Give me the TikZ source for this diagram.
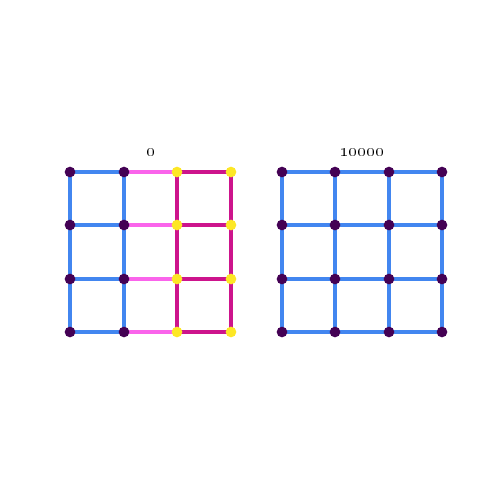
\documentclass[tikz,border=0pt]{standalone}
\definecolor{gblue}{RGB}{66,134,240}
\definecolor{gpink}{RGB}{250,100,235}
\definecolor{gmagenta}{RGB}{205,20,140}
\definecolor{gpurple}{RGB}{68,1,84}
\definecolor{gyellow}{RGB}{253,231,37}
\tikzset{every picture/.style={line width=0.75pt},
	vtx/.style={circle,inner sep=0pt,minimum size=8pt},
	vpurple/.style={vtx,fill=gpurple},
	vyellow/.style={vtx,fill=gyellow},
	gridline/.style={line width=2.4pt}}

\begin{document}
\begin{tikzpicture}[x=0.75pt,y=0.75pt,yscale=-1,xscale=1]
		\useasboundingbox (0,0) rectangle (500,500);
		
		% Left grid: vertices
		\foreach \c/\x in {1/70,2/124,3/177,4/231}
		\foreach \r/\y in {1/172,2/225,3/279,4/332}
		\coordinate (L\c\r) at (\x,\y);
		% Right grid: vertices
		\foreach \c/\x in {1/282,2/335,3/389,4/442}
		\foreach \r/\y in {1/172,2/225,3/279,4/332}
		\coordinate (R\c\r) at (\x,\y);
		
		% Left grid: horizontal edges
		\foreach \r in {1,2,3,4}{
			\draw [gridline,gblue] (L1\r) -- (L2\r) ;
			\draw [gridline,gpink] (L2\r) -- (L3\r) ;
			\draw [gridline,gmagenta] (L3\r) -- (L4\r) ;
		}
		% Left grid: vertical edges
		\foreach \r/\n in {1/2,2/3,3/4}{
			\draw [gridline,gblue] (L1\r) -- (L1\n) ;
			\draw [gridline,gblue] (L2\r) -- (L2\n) ;
			\draw [gridline,gmagenta] (L3\r) -- (L3\n) ;
			\draw [gridline,gmagenta] (L4\r) -- (L4\n) ;
		}
		% Right grid: edges
		\foreach \r/\n in {1/2,2/3,3/4}{
			\foreach \k in {1,2,3,4}{
				\draw [gridline,gblue] (R\r\k) -- (R\n\k) ;
				\draw [gridline,gblue] (R\k\r) -- (R\k\n) ;
			}
		}
		
		% Vertices on top
		\foreach \c/\s in {1/vpurple,2/vpurple,3/vyellow,4/vyellow}
		\foreach \r in {1,2,3,4}
		\node [\s] (nL\c\r) at (L\c\r) {};
		\foreach \c in {1,2,3,4}
		\foreach \r in {1,2,3,4}
		\node [vpurple] (nR\c\r) at (R\c\r) {};
		
		% Text Node
		\node (tL) at (151,152) {\fontsize{15.5}{18}\selectfont\oldstylenums{0}};
		% Text Node
		\node (tR) at (362,152) {\fontsize{15.5}{18}\selectfont\oldstylenums{10000}};
	\end{tikzpicture}
\end{document}
